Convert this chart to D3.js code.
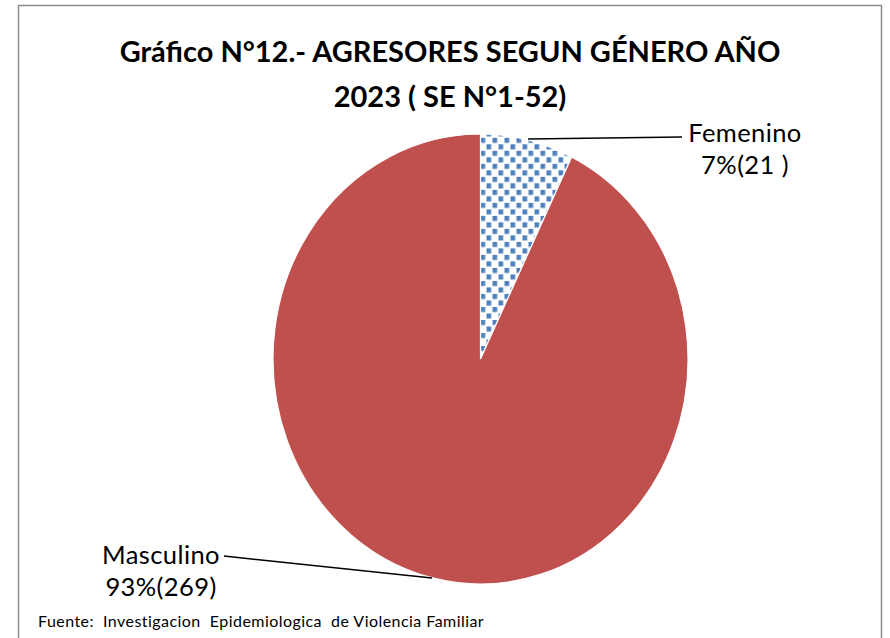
<!DOCTYPE html>
<html>
<head>
<meta charset="utf-8">
<script src="https://cdn.jsdelivr.net/npm/d3@7"></script>
<style>
  body { margin: 0; background: #fff; }
  svg text { font-family: Lato, "Open Sans", sans-serif; white-space: pre; }
</style>
</head>
<body>
<svg id="chart" width="890" height="638"></svg>
<script>
// categories + values
const categories = ["Femenino", "Masculino"];
const counts = [21, 269];
const pctLabels = ["7%(21 )", "93%(269)"];

const W = 890, H = 638;
const svg = d3.select("#chart");

// frame (bottom runs off the picture)
svg.append("path")
  .attr("d", `M18.5,${H} V5.5 H881.5 V${H}`)
  .attr("fill", "none")
  .attr("stroke", "#8c8c8c")
  .attr("stroke-width", 1.5);

// pattern for Femenino
const defs = svg.append("defs");
const pat = defs.append("pattern")
  .attr("id", "dots")
  .attr("patternUnits", "userSpaceOnUse")
  .attr("width", 12).attr("height", 12);
pat.append("rect").attr("width", 12).attr("height", 12).attr("fill", "#fff");
pat.append("rect").attr("x", 0).attr("y", 0).attr("width", 4.7).attr("height", 4.7).attr("fill", "#4F81BD");
pat.append("rect").attr("x", 6).attr("y", 6).attr("width", 4.7).attr("height", 4.7).attr("fill", "#4F81BD");

const fills = ["url(#dots)", "#C0504D"];

// pie is slightly taller than wide in the picture
const cx = 480.5, cy = 359, rx = 207.5, ry = 225;
const pie = d3.pie().sort(null).value(d => d);
const arc = d3.arc().innerRadius(0).outerRadius(rx);
const arcs = pie(counts);

const g = svg.append("g")
  .attr("transform", `translate(${cx},${cy}) scale(1,${ry / rx})`);
g.selectAll("path.slice")
  .data(arcs)
  .join("path")
  .attr("class", "slice")
  .attr("d", arc)
  .attr("fill", (d, i) => fills[i])
  .attr("stroke", "#fff")
  .attr("stroke-width", 1.2)
  .attr("vector-effect", "non-scaling-stroke");

// leader lines
const leaders = [
  [[528, 139], [682, 137]],
  [[432, 578], [224, 556]]
];
svg.selectAll("path.leader")
  .data(leaders)
  .join("path")
  .attr("class", "leader")
  .attr("d", d3.line())
  .attr("fill", "none")
  .attr("stroke", "#000")
  .attr("stroke-width", 1.5);

// data labels
const labelPos = [[745, 142], [161, 564]];
categories.forEach((c, i) => {
  const t = svg.append("text")
    .attr("x", labelPos[i][0]).attr("y", labelPos[i][1])
    .attr("text-anchor", "middle")
    .attr("font-size", 25.5)
    .attr("letter-spacing", 0.4)
    .attr("fill", "#000");
  t.append("tspan").attr("x", labelPos[i][0]).text(c);
  t.append("tspan").attr("x", labelPos[i][0]).attr("dy", 32).text(pctLabels[i]);
});

// title
const title = svg.append("text")
  .attr("text-anchor", "middle")
  .attr("font-size", 29)
  .attr("font-weight", "bold")
  .attr("fill", "#000");
title.append("tspan").attr("x", 450).attr("y", 62).text("Gráfico N°12.- AGRESORES SEGUN GÉNERO AÑO");
title.append("tspan").attr("x", 450).attr("y", 107).text("2023 ( SE N°1-52)");

// source
svg.append("text")
  .attr("x", 38).attr("y", 627)
  .attr("font-size", 16)
  .attr("letter-spacing", 0.45)
  .attr("fill", "#000")
  .text("Fuente:  Investigacion  Epidemiologica  de Violencia Familiar");
</script>
</body>
</html>
